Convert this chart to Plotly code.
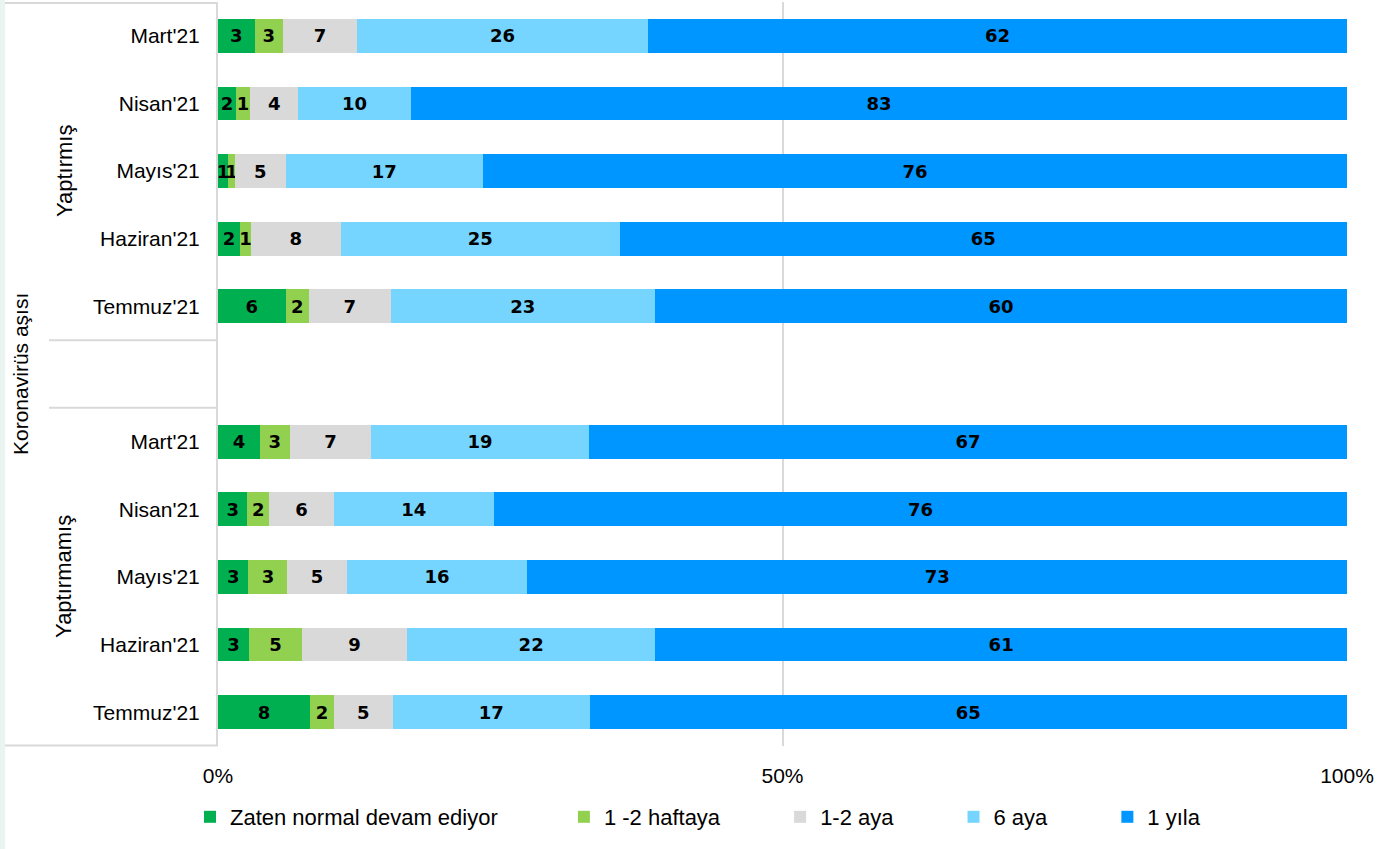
import plotly.graph_objects as go

# ---------------- data ----------------
months = ["Mart'21", "Nisan'21", "Mayıs'21", "Haziran'21", "Temmuz'21"]
groups = ["Yaptırmış", "Yaptırmamış"]
outer_title = "Koronavirüs aşısı"
series_names = ["Zaten normal devam ediyor", "1 -2 haftaya", "1-2 aya", "6 aya", "1 yıla"]
series_colors = ["#00b050", "#92d050", "#d9d9d9", "#75d5ff", "#0096ff"]

# shares (percent), group Yaptırmış then Yaptırmamış
zaten   = [3.25, 1.6, 0.9, 1.95, 6.0,   3.7, 2.6, 2.7, 2.75, 8.15]
hafta   = [2.5, 1.25, 0.6, 0.97, 2.05,  2.65, 1.95, 3.45, 4.7, 2.13]
ay12    = [6.55, 4.25, 4.5, 7.95, 7.25, 7.2, 5.7, 5.25, 9.3, 5.2]
ay6     = [25.8, 10.0, 17.45, 24.7, 23.4, 19.3, 14.2, 16.0, 22.0, 17.45]
yil1    = [61.9, 82.9, 76.5, 64.4, 61.3, 67.1, 75.6, 72.6, 61.3, 67.1]

# data labels as printed on the chart
lab_zaten = [3, 2, 1, 2, 6,  4, 3, 3, 3, 8]
lab_hafta = [3, 1, 1, 1, 2,  3, 2, 3, 5, 2]
lab_ay12  = [7, 4, 5, 8, 7,  7, 6, 5, 9, 5]
lab_ay6   = [26, 10, 17, 25, 23,  19, 14, 16, 22, 17]
lab_yil1  = [62, 83, 76, 65, 60,  67, 76, 73, 61, 65]

x_tick_vals = [0, 50, 100]
x_tick_text = ["0%", "50%", "100%"]

# ---------------- layout helpers ----------------
# row positions: 5 months, an empty slot, 5 months
ypos = [i for i in range(5)] + [i + 6 for i in range(5)]
ytext = months + months

values = [zaten, hafta, ay12, ay6, yil1]
labels = [lab_zaten, lab_hafta, lab_ay12, lab_ay6, lab_yil1]
legend_pad = [10, 9, 9, 9, 0]

W, H = 1377, 849
ML, MR, MT, MB = 218, 30, 2, 103
PW = W - ML - MR
PH = H - MT - MB


def px2paper_x(px):
    return (px - ML) / PW


def px2paper_y(py):
    return 1 - (py - MT) / PH


fig = go.Figure()
for name, col, vals, labs, pad in zip(series_names, series_colors, values, labels, legend_pad):
    fig.add_trace(go.Bar(
        y=ypos, x=vals, orientation="h", name=name + "\u00a0" * pad,
        marker=dict(color=col, line=dict(width=0)),
        text=[str(v) for v in labs], textposition="inside",
        insidetextanchor="middle", textangle=0, constraintext="none",
        textfont=dict(family="DejaVu Sans", size=18, color="black", weight="bold"),
        hoverinfo="skip",
    ))

shapes = []
line_col = "#d9d9d9"
# left mint strip
shapes.append(dict(type="rect", xref="paper", yref="paper",
                   x0=px2paper_x(0), x1=px2paper_x(5), y0=px2paper_y(H), y1=px2paper_y(0),
                   fillcolor="#eaf5f1", line=dict(width=0), layer="below"))
# top and bottom borders of label box
for yy in (px2paper_y(3), px2paper_y(745.5)):
    shapes.append(dict(type="line", xref="paper", yref="paper",
                       x0=px2paper_x(5), x1=0, y0=yy, y1=yy,
                       line=dict(color=line_col, width=2)))
# separators around empty slot
for yy in (4.5, 5.5):
    shapes.append(dict(type="line", xref="paper", yref="y",
                       x0=px2paper_x(49), x1=0, y0=yy, y1=yy,
                       line=dict(color=line_col, width=2)))

lab_font = dict(size=21, color="black", family="Liberation Sans")
annotations = [
    dict(text=groups[0], x=px2paper_x(64), y=2, xref="paper", yref="y",
         xanchor="center", yanchor="middle",
         textangle=-90, showarrow=False, font=dict(lab_font, size=22)),
    dict(text=groups[1], x=px2paper_x(64), y=8, xref="paper", yref="y",
         xanchor="center", yanchor="middle",
         textangle=-90, showarrow=False, font=dict(lab_font, size=22)),
    dict(text=outer_title, x=px2paper_x(20), y=5, xref="paper", yref="y",
         xanchor="center", yanchor="middle",
         textangle=-90, showarrow=False, font=lab_font),
]

fig.update_layout(
    width=W, height=H,
    margin=dict(l=ML, r=MR, t=MT, b=MB, autoexpand=False),
    barmode="stack", barnorm="percent", bargap=0.5,
    paper_bgcolor="white", plot_bgcolor="white",
    font=dict(family="Liberation Sans", color="black", size=20),
    showlegend=True,
    legend=dict(orientation="h", xref="paper", yref="paper",
                x=px2paper_x(190), y=px2paper_y(817), xanchor="left", yanchor="middle",
                font=dict(size=22, family="Liberation Sans", color="black"),
                traceorder="normal", itemclick=False, itemdoubleclick=False),
    xaxis=dict(range=[0, 100], tickvals=x_tick_vals, ticktext=x_tick_text,
               showgrid=True, gridcolor=line_col, gridwidth=1.5, zeroline=False,
               showline=False, ticks="", ticklabelstandoff=15,
               tickfont=dict(size=21, family="Liberation Sans", color="black"), fixedrange=True),
    yaxis=dict(range=[10.5, -0.5], tickvals=ypos, ticktext=ytext,
               showgrid=False, zeroline=False, showline=True, linecolor=line_col, linewidth=2,
               ticks="", ticklabelstandoff=12,
               tickfont=lab_font, fixedrange=True),
    shapes=shapes, annotations=annotations,
)

fig.write_html(
    "out.html",
    config={"displayModeBar": False, "staticPlot": False},
    post_script="document.body.style.margin='0';document.body.style.overflow='hidden';",
)
